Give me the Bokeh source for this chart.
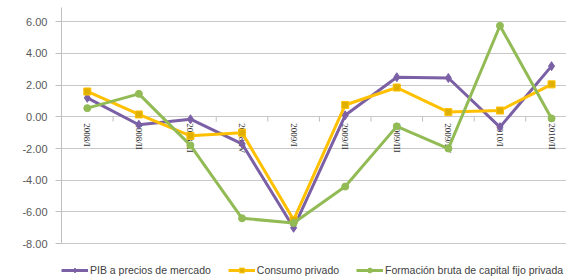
import math
from bokeh.plotting import figure
from bokeh.models import ColumnDataSource, Legend, LegendItem, FixedTicker, NumeralTickFormatter
from bokeh.core.properties import value
from bokeh.embed import file_html
from bokeh.resources import INLINE

categories = ["2008/I", "2008/II", "2008/III", "2008/IV", "2009/I", "2009/II",
              "2009/III", "2009/IV", "2010/I", "2010/II"]
pib = [1.2, -0.5, -0.15, -1.7, -7.0, 0.1, 2.5, 2.45, -0.65, 3.2]
consumo = [1.6, 0.15, -1.2, -1.0, -6.5, 0.75, 1.85, 0.3, 0.4, 2.05]
formacion = [0.55, 1.45, -1.8, -6.4, -6.7, -4.4, -0.6, -2.0, 5.75, -0.1]
y_ticks = [-8, -6, -4, -2, 0, 2, 4, 6]
series_names = ["PIB a precios de mercado", "Consumo privado",
                "Formación bruta de capital fijo privada"]

xs = list(range(len(categories)))

p = figure(width=566, height=278, output_backend="svg", toolbar_location=None,
           x_range=(-0.5, 9.29), y_range=(-10.2, 6.9), x_axis_location=None,
           min_border_left=61, min_border_right=0, min_border_top=7, min_border_bottom=0)
p.outline_line_color = None
p.background_fill_color = "white"
p.border_fill_color = "white"

p.xgrid.visible = False
p.yaxis.ticker = FixedTicker(ticks=y_ticks)
p.yaxis.bounds = (-8, 6.9)
p.yaxis.formatter = NumeralTickFormatter(format="0.00")
p.yaxis.axis_line_color = "#bfbfbf"
p.yaxis.major_tick_line_color = "#bfbfbf"
p.yaxis.major_tick_out = 6
p.yaxis.major_tick_in = 0
p.yaxis.minor_tick_line_color = None
p.yaxis.major_label_text_font = "Liberation Sans"
p.yaxis.major_label_text_font_size = "11px"
p.yaxis.major_label_text_color = "#595959"
p.yaxis.major_label_standoff = 8
p.ygrid.ticker = FixedTicker(ticks=y_ticks)
p.ygrid.grid_line_color = "#c8c8c8"
p.ygrid.grid_line_width = 1

# boundary ticks on zero line
bounds = [i + 0.5 for i in xs[:-1]]
p.segment(x0=bounds, x1=bounds, y0=[0]*len(bounds), y1=[-0.3]*len(bounds),
          line_color="#bfbfbf", line_width=1)

# category labels along zero line
src_lab = ColumnDataSource(dict(x=xs, y=[-0.4]*len(xs), t=categories))
p.text(x="x", y="y", text="t", source=src_lab, angle=-math.pi/2, text_align="left",
       text_baseline="middle", text_font=value("Liberation Serif"), text_font_size="9px",
       text_color="#333333")

c_pib = "#7b60a6"
c_con = "#ffc000"
c_for = "#92bb55"

r1 = p.line(xs, pib, line_color=c_pib, line_width=3)
m1 = p.scatter(xs, pib, marker="diamond", size=9, fill_color=c_pib, line_color=c_pib)
r2 = p.line(xs, consumo, line_color=c_con, line_width=3)
m2 = p.scatter(xs, consumo, marker="square", size=7, fill_color="#e0b000", line_color=c_con)
r3 = p.line(xs, formacion, line_color=c_for, line_width=3)
m3 = p.scatter(xs, formacion, marker="circle", size=7, fill_color=c_for, line_color=c_for)

legend = Legend(items=[LegendItem(label=n, renderers=r) for n, r in
                       zip(series_names, [[r1, m1], [r2, m2], [r3, m3]])],
                orientation="horizontal", location=(0, 2))
legend.border_line_color = None
legend.background_fill_alpha = 0
legend.label_text_font = "Liberation Sans"
legend.label_text_font_size = "10.5px"
legend.label_text_color = "#404040"
legend.label_height = 12
legend.glyph_width = 27
legend.glyph_height = 12
legend.label_standoff = 2
legend.spacing = 17
legend.padding = 0
legend.margin = 0
p.add_layout(legend)

open("out.html", "w").write(file_html(p, INLINE))
